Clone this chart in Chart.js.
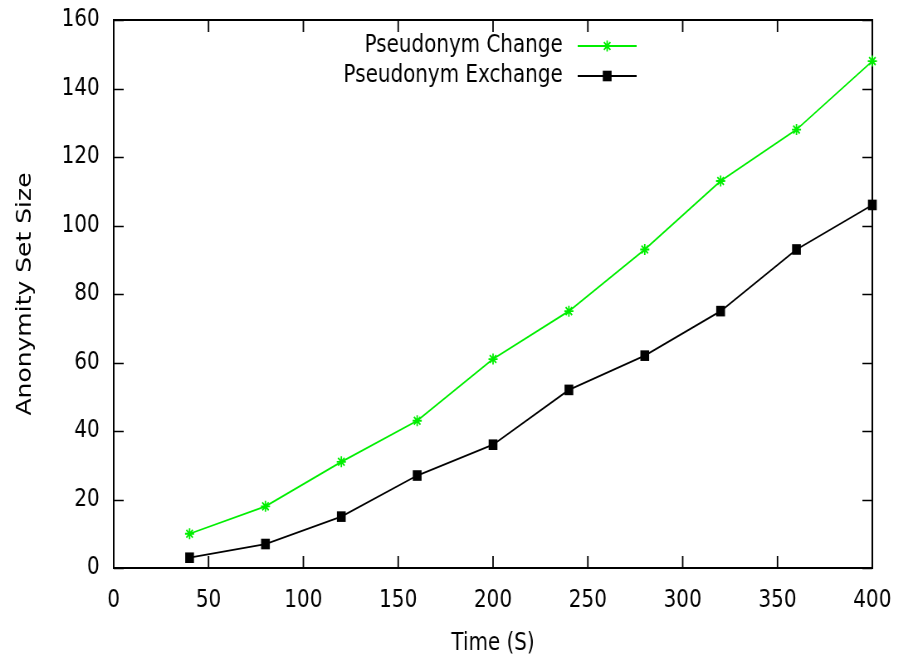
<!DOCTYPE html>
<html lang="en">
<head>
    <meta charset="UTF-8">
    <title>Anonymity Set Size</title>
    <script src="https://cdn.jsdelivr.net/npm/chart.js@4.4.1/dist/chart.umd.min.js"></script>
    <style>
        html, body { margin: 0; background: #fff; overflow: hidden; }
        #wrap { width: 897px; height: 655px; overflow: hidden; }
        /* the original figure is squeezed sideways, so draw wide and squeeze the canvas */
        #chart { transform: scaleX(0.83); transform-origin: 0 0; }
    </style>
</head>
<body>
<div id="wrap"><canvas id="chart" width="1081" height="655"></canvas></div>
<script>
    // values
    const times = [40, 80, 120, 160, 200, 240, 280, 320, 360, 400];
    const pseudonymChange = [10, 18, 31, 43, 61, 75, 93, 113, 128, 148];
    const pseudonymExchange = [3, 7, 15, 27, 36, 52, 62, 75, 93, 106];
    const xTicks = [0, 50, 100, 150, 200, 250, 300, 350, 400];
    const yTicks = [0, 20, 40, 60, 80, 100, 120, 140, 160];

    const labelFont = { family: "'DejaVu Sans', sans-serif", size: 24 };

    // gnuplot style box: full border with ticks pointing inward on all four sides
    const frame = {
        id: 'frame',
        beforeDatasetsDraw(chart) {
            const { ctx, chartArea: a, scales } = chart;
            const len = 12;
            ctx.save();
            ctx.strokeStyle = '#000';
            ctx.lineWidth = 1.8;
            xTicks.forEach(v => {
                const x = scales.x.getPixelForValue(v);
                ctx.beginPath();
                ctx.moveTo(x, a.bottom); ctx.lineTo(x, a.bottom - len);
                ctx.moveTo(x, a.top); ctx.lineTo(x, a.top + len);
                ctx.stroke();
            });
            ctx.lineWidth = 1.5;
            yTicks.forEach(v => {
                const y = Math.round(scales.y.getPixelForValue(v)) + 0.5;
                ctx.beginPath();
                ctx.moveTo(a.left, y); ctx.lineTo(a.left + len, y);
                ctx.moveTo(a.right, y); ctx.lineTo(a.right - len, y);
                ctx.stroke();
            });
            ctx.lineWidth = 2;
            ctx.strokeRect(a.left, a.top, a.right - a.left, a.bottom - a.top);
            ctx.restore();
        }
    };

    // key in the gnuplot layout: text right aligned, then line sample with marker
    const key = {
        id: 'key',
        afterDraw(chart) {
            const ctx = chart.ctx;
            const textRight = 678, lineLeft = 696, lineRight = 767, top = 46, row = 30;
            ctx.save();
            chart.data.datasets.forEach((ds, i) => {
                const y = top + i * row;
                ctx.font = labelFont.size + 'px ' + labelFont.family;
                ctx.fillStyle = '#000';
                ctx.textAlign = 'right';
                ctx.textBaseline = 'middle';
                ctx.fillText(ds.label, textRight, y);
                ctx.strokeStyle = ds.borderColor;
                ctx.fillStyle = ds.pointBackgroundColor;
                ctx.lineWidth = ds.borderWidth;
                ctx.beginPath();
                ctx.moveTo(lineLeft, y); ctx.lineTo(lineRight, y);
                ctx.stroke();
                Chart.helpers.drawPoint(ctx, {
                    pointStyle: ds.pointStyle,
                    radius: ds.pointRadius,
                    borderWidth: ds.pointBorderWidth,
                    rotation: 0
                }, (lineLeft + lineRight) / 2, y);
            });
            ctx.restore();
        }
    };

    const ctx = document.getElementById('chart');
    new Chart(ctx, {
        type: 'line',
        data: {
            datasets: [
                {
                    label: 'Pseudonym Change',
                    data: times.map((t, i) => ({ x: t, y: pseudonymChange[i] })),
                    borderColor: '#00ee00',
                    backgroundColor: '#00ee00',
                    pointBackgroundColor: '#00ee00',
                    borderWidth: 1.8,
                    pointStyle: 'star',
                    pointRadius: 5.5,
                    pointBorderWidth: 1.8,
                    tension: 0,
                    clip: false
                },
                {
                    label: 'Pseudonym Exchange',
                    data: times.map((t, i) => ({ x: t, y: pseudonymExchange[i] })),
                    borderColor: '#000',
                    backgroundColor: '#000',
                    pointBackgroundColor: '#000',
                    borderWidth: 1.8,
                    pointStyle: 'rect',
                    pointRadius: 7.5,
                    pointBorderWidth: 0,
                    tension: 0,
                    clip: false
                }
            ]
        },
        options: {
            responsive: false,
            animation: false,
            devicePixelRatio: 1,
            layout: { padding: { top: 20, right: 30, left: 0, bottom: 0 } },
            plugins: {
                legend: { display: false },
                tooltip: { enabled: false }
            },
            scales: {
                x: {
                    type: 'linear',
                    min: 0,
                    max: 400,
                    afterBuildTicks: s => { s.ticks = xTicks.map(v => ({ value: v })); },
                    afterFit: s => {
                        s.height = 87;
                        s.paddingLeft = 0;
                        s.paddingRight = 0;
                    },
                    grid: { display: false, drawTicks: false },
                    border: { display: false },
                    ticks: { color: '#000', font: labelFont, padding: 18, maxRotation: 0 },
                    title: {
                        display: true,
                        text: 'Time (S)',
                        color: '#000',
                        font: labelFont,
                        padding: { top: 0, bottom: -3 }
                    }
                },
                y: {
                    type: 'linear',
                    min: 0,
                    max: 160,
                    afterBuildTicks: s => { s.ticks = yTicks.map(v => ({ value: v })); },
                    afterFit: s => {
                        s.width = 137;
                        // let the top label stick out over the margin like gnuplot does
                        s.paddingTop = 0;
                        s.paddingBottom = 0;
                    },
                    grid: { display: false, drawTicks: false },
                    border: { display: false },
                    ticks: { color: '#000', font: labelFont, padding: 17 },
                    title: {
                        display: true,
                        text: 'Anonymity Set Size',
                        color: '#000',
                        font: { family: "'DejaVu Sans', sans-serif", size: 25 },
                        padding: { top: 15, bottom: 0 }
                    }
                }
            }
        },
        plugins: [frame, key]
    });
</script>
</body>
</html>
